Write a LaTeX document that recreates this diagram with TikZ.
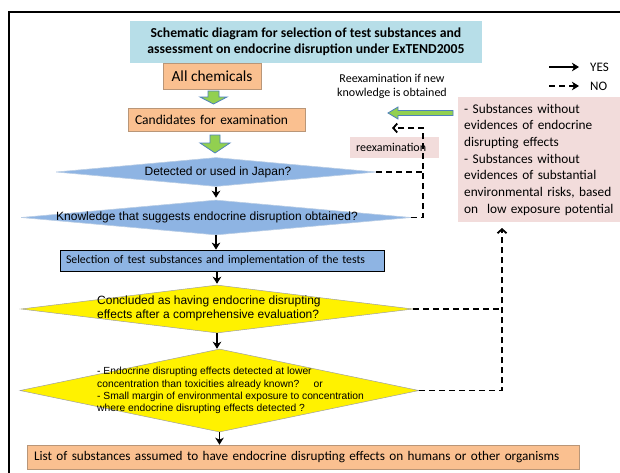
\documentclass[tikz,border=0pt]{standalone}
\usepackage{fontspec}
\newfontfamily\calib{Carlito}
\newfontfamily\arial{Liberation Sans}
\usetikzlibrary{shapes.geometric,arrows.meta,calc}
\definecolor{titlebg}{RGB}{183,222,232}
\definecolor{orangebg}{RGB}{250,192,144}
\definecolor{orangebd}{RGB}{185,150,120}
\definecolor{bluebg}{RGB}{142,180,227}
\definecolor{bluebd}{RGB}{185,205,229}
\definecolor{pinkbg}{RGB}{242,220,219}
\definecolor{greenar}{RGB}{146,208,80}
\definecolor{bluear}{RGB}{79,129,189}
\definecolor{yelbd}{RGB}{160,160,160}
\newcommand\fs[2]{\fontsize{#1}{#2}\selectfont\hyphenpenalty=10000\exhyphenpenalty=10000}
\begin{document}
\begin{tikzpicture}[x=1pt,y=-1pt,
  obox/.style={rectangle, fill=orangebg, draw=orangebd, line width=0.6pt, font=\calib, inner sep=0pt},
  bdiam/.style={diamond, fill=bluebg, draw=bluebd, line width=0.6pt, inner sep=0pt},
  ydiam/.style={diamond, fill=yellow, draw=yelbd, line width=0.5pt, inner sep=0pt},
  dtext/.style={font=\arial, inner sep=0pt},
  yesar/.style={line width=1.5pt, -{Stealth[length=7pt,width=8.5pt,inset=2pt]}},
  noar/.style={line width=1.5pt, dash pattern=on 6pt off 4pt, -{Straight Barb[length=4pt,width=9pt,line width=1.8pt]}},
  nolegend/.style={line width=1.5pt, dash pattern=on 6pt off 4pt, -{Stealth[length=7pt,width=8.5pt,inset=2pt]}},
  noline/.style={line width=1.5pt, dash pattern=on 6pt off 4pt},
  blockar/.style={fill=greenar, draw=bluear, line width=0.8pt},
]
\useasboundingbox (0,0) rectangle (620,472);
\clip (0,0) rectangle (620,472);
\fill[white] (0,0) rectangle (620,472);
\draw[line width=2.2pt] (9,12) rectangle (660,520);

% title
\node[fill=titlebg, minimum width=352pt, minimum height=42pt, inner sep=0pt,
      font=\calib\bfseries\fs{13.7}{16}, align=center] (title) at (306,42)
  {Schematic diagram for selection of test substances and\\assessment on endocrine disruption under ExTEND2005};

% top boxes
\node[obox, minimum width=98pt, minimum height=26pt, font=\calib\fs{15.4}{18}] (all) at (212,76) {All chemicals};
\node[obox, minimum width=177pt, minimum height=23pt, text width=163pt, inner xsep=7pt, align=left,
      font=\calib\fs{13.5}{16}] (cand) at (216.5,119.5) {Candidates for examination};

% block arrows
\draw[blockar] (208,91) -- (219,91) -- (219,97) -- (227,97) -- (213.5,104) -- (200,97) -- (208,97) -- cycle;
\draw[blockar] (210,135) -- (220,135) -- (220,143) -- (230,143) -- (215,153) -- (200,143) -- (210,143) -- cycle;

% blue diamonds
\node[bdiam, minimum width=320pt, minimum height=29pt] (d1) at (216,172) {};
\node[dtext, font=\arial\fs{12}{14}] (d1t) at (218,172) {Detected or used in Japan?};
\node[bdiam, minimum width=390pt, minimum height=35pt] (d2) at (216,217.5) {};
\node[dtext, font=\arial\fs{12}{14}] (d2t) at (207,217) {Knowledge that suggests endocrine disruption obtained?};

% selection box
\node[rectangle, fill=bluebg, draw=black, line width=0.7pt, minimum width=324pt, minimum height=21pt,
      text width=312pt, inner xsep=6pt, inner ysep=0pt, align=left, font=\calib\fs{11.8}{14}] (sel) at (222,260.5)
  {Selection of test substances and implementation of the tests};

% yellow diamonds
\node[ydiam, minimum width=392pt, minimum height=48pt] (y1) at (217,309) {};
\node[dtext, anchor=west, align=left, font=\arial\fs{12}{13.5}] (y1t) at (97,308.5)
  {Concluded as having endocrine disrupting\\effects after a comprehensive evaluation?};
\node[ydiam, minimum width=399pt, minimum height=83pt] (y2) at (219.5,390.5) {};
\node[dtext, anchor=west, align=left, font=\arial\fs{10.3}{12.3}] (y2t) at (97,390.5)
  {- Endocrine disrupting effects detected at lower\\concentration than toxicities already known?\ \ \ \ \ or\\- Small margin of environmental exposure to concentration\\where endocrine disrupting effects detected ?};

% bottom box
\node[obox, minimum width=552pt, minimum height=24pt, text width=538pt, inner xsep=7pt, align=left,
      font=\calib\fs{13.2}{16}] (list) at (303,457)
  {List of substances assumed to have endocrine disrupting effects on humans or other organisms};

% pink box
\node[rectangle, fill=pinkbg, anchor=north west, minimum width=182pt, minimum height=125pt,
      text width=170pt, inner xsep=6pt, inner ysep=0pt, align=left, font=\calib\fs{13.3}{16.7}] (pink) at (458,97)
  {- Substances without\\evidences of endocrine\\disrupting effects\\- Substances without\\evidences of substantial\\environmental risks, based\\on\ \ low exposure potential};

% reexamination labels
\node[rectangle, fill=pinkbg, minimum width=89pt, minimum height=21pt, text width=77pt, inner xsep=6pt,
      inner ysep=0pt, align=left, font=\calib\fs{12}{14}] (reex) at (394.5,147.5) {reexamination};
\node[align=center, inner sep=0pt, font=\calib\fs{12}{14}] (reexnote) at (392,86)
  {Reexamination if new\\knowledge is obtained};
\draw[blockar] (388,113) -- (398,107) -- (398,110.5) -- (453,110.5) -- (453,115.5) -- (398,115.5) -- (398,119) -- cycle;

% legend
\node[anchor=west, inner sep=0pt, font=\calib\fs{13}{15}] (yeslbl) at (590,67) {YES};
\node[anchor=west, inner sep=0pt, font=\calib\fs{13}{15}] (nolbl) at (590,86) {NO};
\coordinate (yesstart) at (549,67);
\coordinate (nostart) at (549,86);
\draw[yesar, shorten >=11pt] (yesstart) -- (yeslbl.west);
\draw[nolegend, shorten >=11pt] (nostart) -- (nolbl.west);

% YES connectors
\draw[yesar, shorten >=2pt] (d1.south) -- (d2.north);
\draw[yesar] (d2.south) -- (d2.south |- sel.north);
\draw[yesar, shorten >=1pt] (sel.south -| y1.north) -- (y1.north);
\draw[yesar] (y1.south) -- (y1.south |- y2.north);
\draw[yesar] (y2.south) -- (y2.south |- list.north);

% NO connectors
\coordinate (rcorner) at (423,128);
\coordinate (rend) at (392,128);
\draw[noline] (d1.east) -- (d1.east -| rcorner);
\draw[noar] (d2.east) -| (rcorner) -- (rend);
\coordinate (ytop) at (502,228);
\draw[noline] (y1.east) -- (y1.east -| ytop);
\draw[noar] (y2.east) -| (ytop);
\end{tikzpicture}
\end{document}
